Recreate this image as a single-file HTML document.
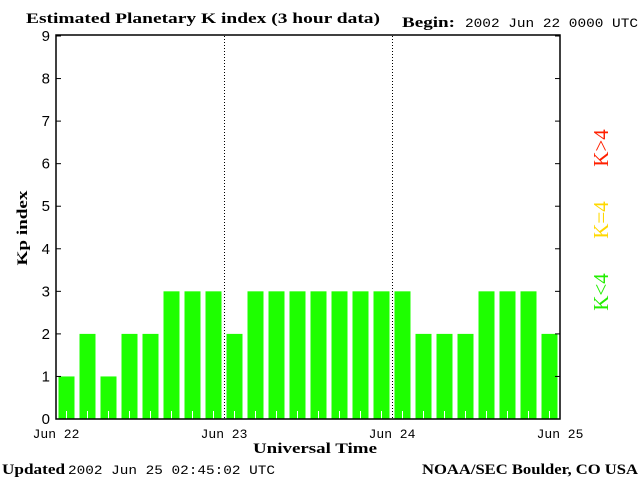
<!DOCTYPE html>
<html><head><meta charset="utf-8"><style>
html,body{margin:0;padding:0;background:#fff}
svg{display:block}
text{font-family:"Liberation Mono","DejaVu Sans Mono",monospace;font-size:13px;fill:#000}
.b{font-family:"Liberation Serif",serif;font-weight:bold;font-size:15px}
</style></head><body>
<svg id="chart" width="640" height="480">
<text class="b" x="26" y="23" textLength="354" lengthAdjust="spacingAndGlyphs">Estimated Planetary K index (3 hour data)</text>
<text class="b" x="402" y="27" textLength="53" lengthAdjust="spacingAndGlyphs">Begin:</text>
<text x="465" y="27" textLength="173" lengthAdjust="spacingAndGlyphs">2002 Jun 22 0000 UTC</text>
<g id="plot"></g>
<text class="b" transform="translate(27,228) rotate(-90)" text-anchor="middle" textLength="75" lengthAdjust="spacingAndGlyphs">Kp index</text>
<text class="b" x="253" y="453" textLength="124" lengthAdjust="spacingAndGlyphs">Universal Time</text>
<text class="b" x="2" y="474" textLength="63" lengthAdjust="spacingAndGlyphs">Updated</text>
<text x="68" y="474" textLength="207" lengthAdjust="spacingAndGlyphs">2002 Jun 25 02:45:02 UTC</text>
<text class="b" x="422" y="474" textLength="216" lengthAdjust="spacingAndGlyphs">NOAA/SEC Boulder, CO USA</text>
<text transform="translate(608,148) rotate(-90)" text-anchor="middle" style="fill:#ff2000;font-family:'Liberation Serif',serif;font-size:21px">K&gt;4</text>
<text transform="translate(608,220) rotate(-90)" text-anchor="middle" style="fill:#ffd800;font-family:'Liberation Serif',serif;font-size:21px">K=4</text>
<text transform="translate(608,292) rotate(-90)" text-anchor="middle" style="fill:#22ee00;font-family:'Liberation Serif',serif;font-size:21px">K&lt;4</text>
</svg>
<script>
const kpValues=[1,2,1,2,2,3,3,3,2,3,3,3,3,3,3,3,3,2,2,2,3,3,3,2];
const yTicks=[0,1,2,3,4,5,6,7,8,9];
const dayLabels=["Jun 22","Jun 23","Jun 24","Jun 25"];
const NS="http://www.w3.org/2000/svg";
const L=56,R=560,T=36,B=419;
const ys=v=>B-(v/9)*(B-T);
const slotW=(R-L)/kpValues.length;
const xs=i=>L+i*slotW;
const g=document.getElementById('plot');
function mk(t,a){const e=document.createElementNS(NS,t);for(const k in a)e.setAttribute(k,a[k]);g.appendChild(e);return e;}
kpValues.forEach((v,i)=>{
 const c=v<4?'#1eff00':(v==4?'#ffd800':'#ff2000');
 const r=mk('rect',{x:xs(i)+2.5,y:ys(v),width:slotW-5,height:B-ys(v),fill:c});
 
 
 const t=mk('line',{x1:xs(i)+slotW/2,x2:xs(i)+slotW/2,y1:B,y2:B-8,stroke:'#fff','stroke-width':1});
 
 
});
dayLabels.forEach((d,i)=>{
 const x=L+i*(R-L)/(dayLabels.length-1);
 if(i>0&&i<dayLabels.length-1){
  const l=mk('line',{x1:x+0.5,x2:x+0.5,y1:T,y2:B,stroke:'#000','stroke-dasharray':'1,2'});
  
  
 }
 const t=mk('text',{x:x,y:438,'text-anchor':'middle'});t.textContent=d;
 
 
});
yTicks.forEach(v=>{
 const y=ys(v);
 const t=mk('text',{x:50,y:y+5,'text-anchor':'end',style:'font-size:15px;font-family:"Liberation Sans",sans-serif'});t.textContent=v;
 
 
 const a=mk('line',{x1:L,x2:L+5,y1:y,y2:y,stroke:'#000'});
 
 
 const b=mk('line',{x1:R-5,x2:R,y1:y,y2:y,stroke:'#000'});
 
 
});
const f=mk('rect',{x:L,y:T-1,width:R-L,height:B-T+1,fill:'none',stroke:'#000','stroke-width':1.5});


</script>
</body></html>
